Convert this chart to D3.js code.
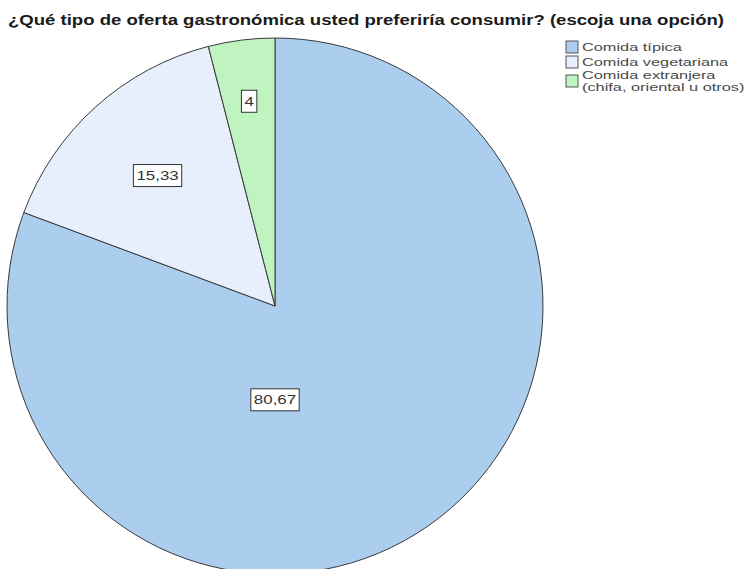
<!DOCTYPE html>
<html><head><meta charset="utf-8">
<script src="https://cdn.jsdelivr.net/npm/d3@7"></script>
<style>body{margin:0;background:#fff}svg{display:block}</style>
</head><body>
<svg id="c" width="752" height="569"></svg>
<script>
const title = "¿Qué tipo de oferta gastronómica usted preferiría consumir? (escoja una opción)";
const categories = ["Comida típica", "Comida vegetariana", "Comida extranjera\n(chifa, oriental u otros)"];
const values = [80.67, 15.33, 4];
const valueLabels = ["80,67", "15,33", "4"];
const colors = ["#abcdee", "#e6effb", "#bff3c0"];
// label placement: radius as fraction of pie radius, and optional fixed angle (degrees clockwise from top)
const labelRadiusFrac = [0.35, 0.655, 0.77];
const labelAngleDeg = [180, null, null];

const W = 752, H = 569;
const svg = d3.select("#c");
const cx = 275, cy = 306, R = 268;
const font = "'Liberation Sans', Arial, sans-serif";

function stretchText(sel, k) {
  sel.each(function() {
    const n = this.getComputedTextLength();
    d3.select(this).attr("textLength", n * k).attr("lengthAdjust", "spacingAndGlyphs");
  });
}

// title
const t = svg.append("text").attr("x", 366).attr("y", 25).attr("text-anchor", "middle")
  .attr("font-family", font).attr("font-weight", "bold").attr("font-size", 14).attr("fill", "#1a1a1a")
  .text(title);
t.attr("textLength", 716).attr("lengthAdjust", "spacingAndGlyphs");

const pie = d3.pie().sort(null).value(d => d)(values);
const arc = d3.arc().innerRadius(0).outerRadius(R);
const g = svg.append("g").attr("transform", `translate(${cx},${cy})`);
g.selectAll("path").data(pie).join("path")
  .attr("d", arc).attr("fill", (d, i) => colors[i])
  .attr("stroke", "#3a3a3a").attr("stroke-width", 1);

// value labels
pie.forEach((d, i) => {
  const a = labelAngleDeg[i] != null ? labelAngleDeg[i] * Math.PI / 180 : (d.startAngle + d.endAngle) / 2;
  const r = labelRadiusFrac[i] * R;
  const x = Math.sin(a) * r, y = -Math.cos(a) * r;
  const lg = g.append("g").attr("transform", `translate(${x},${y})`);
  const rect = lg.append("rect");
  const tx = lg.append("text").attr("text-anchor", "middle").attr("dy", "0.36em")
    .attr("font-family", font).attr("font-size", 13).attr("fill", "#333").text(valueLabels[i]);
  stretchText(tx, 1.3);
  const tw = +tx.attr("textLength");
  rect.attr("x", -tw/2 - 3).attr("y", -11).attr("width", tw + 6).attr("height", 22)
    .attr("fill", "#fff").attr("stroke", "#333").attr("stroke-width", 1);
});

// legend
const legX = 566, rowY = [47, 62, 81];
categories.forEach((c, i) => {
  const lines = c.split("\n");
  const y = rowY[i];
  svg.append("rect").attr("x", legX).attr("y", y - 6).attr("width", 12).attr("height", 12)
    .attr("fill", colors[i]).attr("stroke", "#555").attr("stroke-width", 1);
  lines.forEach((ln, j) => {
    const ly = y + (j - (lines.length - 1) / 2) * 11.5;
    const tt = svg.append("text").attr("x", legX + 16).attr("y", ly).attr("dy", "0.35em")
      .attr("font-family", font).attr("font-size", 11.5).attr("fill", "#4a4a4a").text(ln);
    stretchText(tt, 1.42);
  });
});
</script>
</body></html>
